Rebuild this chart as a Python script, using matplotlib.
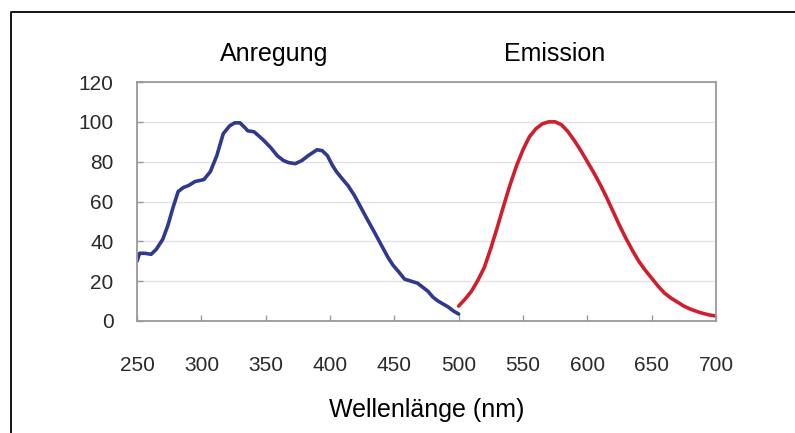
import matplotlib
matplotlib.use("Agg")
import matplotlib.pyplot as plt
from matplotlib.lines import Line2D

plt.rcParams["font.family"] = ["Liberation Sans", "DejaVu Sans"]

# excitation (Anregung) spectrum
ex_nm = [250, 252, 256, 261, 265, 270, 274, 278, 282, 286, 290, 295, 302, 307,
         312, 317, 322, 326, 330, 334, 336, 341, 348, 354, 359, 364, 368, 373,
         378, 383, 390, 394, 398, 402, 405, 410, 414, 419, 424, 429, 435, 440,
         445, 449, 453, 458, 463, 468, 472, 476, 480, 484, 488, 492, 496, 500]
ex_val = [30, 34, 34, 33.5, 36, 41, 48, 57, 65, 67, 68, 70, 71, 75,
          83, 94, 98, 99.5, 99.5, 97, 95.5, 95, 91, 87, 83, 80.5, 79.5, 79,
          80.5, 83, 86, 85.5, 83, 78, 75, 71, 68, 63, 57, 51, 44, 38,
          32, 28, 25, 21, 20, 19, 17, 15, 12, 10, 8.5, 7, 5, 3.5]

# emission spectrum
em_nm = [500, 505, 510, 515, 520, 525, 530, 535, 540, 545, 550, 555, 560, 565,
         570, 575, 580, 585, 590, 595, 600, 605, 610, 615, 620, 625, 630, 635,
         640, 645, 650, 655, 660, 665, 670, 675, 680, 685, 690, 695, 700]
em_val = [7.5, 11, 15, 20.5, 27, 36.5, 47, 58, 68.5, 78, 86, 92.5, 96.5, 99,
          100, 100, 98.5, 95, 90.5, 85.5, 80, 74.5, 68.5, 62, 55, 48, 41.5, 35.5,
          30, 25.5, 21.5, 17.5, 14, 11.5, 9.5, 7.5, 6, 4.8, 3.8, 3, 2.5]

x_ticks = [250, 300, 350, 400, 450, 500, 550, 600, 650, 700]
y_ticks = [0, 20, 40, 60, 80, 100, 120]

fig = plt.figure(figsize=(7.95, 4.33), dpi=100)
ax = fig.add_axes([137 / 795, 1 - 321 / 433, 579 / 795, 239 / 433])

ax.plot(ex_nm, ex_val, color="#2f3a8e", linewidth=2.6, solid_capstyle="round",
        solid_joinstyle="round")
ax.plot(em_nm, em_val, color="#d01f2c", linewidth=2.6, solid_capstyle="round",
        solid_joinstyle="round")

ax.set_xlim(250, 700)
ax.set_ylim(0, 120)
ax.set_xticks(x_ticks)
ax.set_yticks(y_ticks)
ax.tick_params(axis="both", direction="in", length=4, width=1, color="#999999",
               labelsize=15, labelcolor="#2a2a2a")
ax.tick_params(axis="x", pad=25)
ax.tick_params(axis="y", pad=17)
ax.grid(axis="y", color="#e2e2e2", linewidth=1)
ax.set_axisbelow(True)
for side in ["left", "bottom", "top", "right"]:
    ax.spines[side].set_color("#9a9a9a")
    ax.spines[side].set_linewidth(1.3)

fig.text(274 / 795, 1 - 54 / 433, "Anregung", fontsize=18, ha="center", va="center")
fig.text(555 / 795, 1 - 54 / 433, "Emission", fontsize=18, ha="center", va="center")
fig.text(427 / 795, 1 - 410 / 433, "Wellenlänge (nm)", fontsize=18,
         ha="center", va="center")

# outer frame (only top and left edges visible)
fig.add_artist(Line2D([11 / 795, 11 / 795, 1.0], [0.0, 1 - 12 / 433, 1 - 12 / 433],
                      transform=fig.transFigure, color="black", linewidth=1.3))

fig.savefig("out.png", dpi=100)
